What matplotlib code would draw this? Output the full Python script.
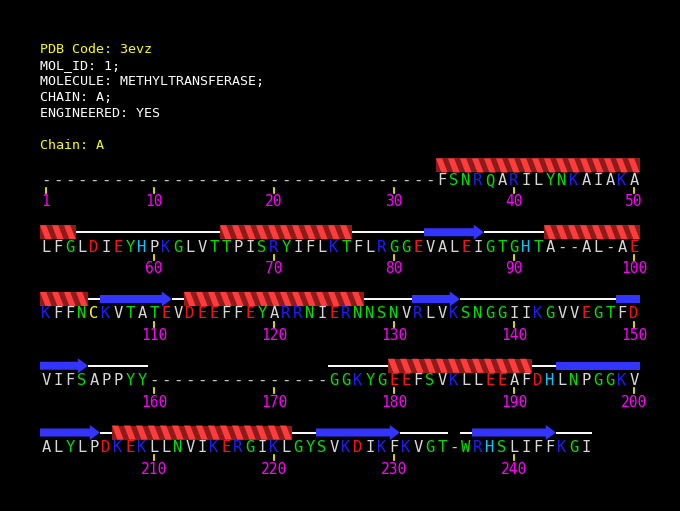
import matplotlib
matplotlib.use("Agg")
import matplotlib.pyplot as plt
from matplotlib.patches import Polygon, FancyArrow, Rectangle

# sequence of chain A, 50 residues per row, '-' = residue not in the model
sequence = ("---------------------------------FSNRQARILYNKAIAKA"
            "LFGLDIEYHPKGLVTTPISRYIFLKTFLRGGEVALEIGTGHTA--AL-AE"
            "KFFNCKVTATEVDEEFFEYARRNIERNNSNVRLVKSNGGIIKGVVEGTFD"
            "VIFSAPPYY---------------GGKYGEEFSVKLLEEAFDHLNPGGKV"
            "ALYLPDKEKLLNVIKERGIKLGYSVKDIKFKVGT-WRHSLIFFKGI")

helices = [(34, 53), (66, 76), (93, 104), (113, 127), (180, 191), (207, 221)]
strands = [(83, 87), (106, 111), (132, 135), (149, 154), (194, 205),
           (224, 230), (237, 243)]
tick_residues = [1, 10, 20, 30, 40, 50, 60, 70, 80, 90, 100, 110, 120, 130,
                 140, 150, 160, 170, 180, 190, 200, 210, 220, 230, 240]

header_lines = ["PDB Code: 3evz", "MOL_ID: 1;", "MOLECULE: METHYLTRANSFERASE;",
                "CHAIN: A;", "ENGINEERED: YES", "", "Chain: A"]
header_colors = ["#ffff00", "#ffffff", "#ffffff", "#ffffff", "#ffffff", "#ffffff",
                 "#ffff00"]

per_row = 50
res_colors = {}
for aa in "AILVFPMW":
    res_colors[aa] = "#d8d8d8"
for aa in "GSTNQYW":
    res_colors[aa] = "#00e000"
for aa in "KR":
    res_colors[aa] = "#1c1cff"
for aa in "DE":
    res_colors[aa] = "#ff1010"
res_colors["H"] = "#00c8ff"
res_colors["C"] = "#ffff00"
res_colors["-"] = "#c8c8c8"

# pixel geometry
PX = 12.0      # px per residue column
RY = 66.75     # px per row
def py(v):
    return v / RY

fig = plt.figure(figsize=(6.8, 5.11), dpi=100)
fig.patch.set_facecolor("black")
ax = fig.add_axes([0, 0, 1, 1])
ax.set_facecolor("black")
ax.set_xlim(-46 / PX, (680 - 46) / PX)
ax.set_ylim((511 - 180) / RY, -180 / RY)
ax.axis("off")

font = dict(family="DejaVu Sans Mono", fontsize=9.6)
seqfont = dict(family="DejaVu Sans Mono", fontsize=11.2)

def pos(resnum):
    i = resnum - 1
    return i % per_row, i // per_row

# residue letters
for i, aa in enumerate(sequence):
    col, row = pos(i + 1)
    ax.text(col, row + py(5), aa, color=res_colors.get(aa, "#d8d8d8"),
            ha="center", va="baseline", **seqfont)

# residue number ticks
for r in tick_residues:
    col, row = pos(r)
    ax.plot([col, col], [row + py(8), row + py(13)], color="#ffff00", lw=1.2)
    ax.text(col, row + py(26.5), str(r), color="#ff00ff", ha="center",
            va="baseline", family="DejaVu Sans Mono", fontsize=10.5)

def row_pieces(a, b):
    # split a residue range into per-row pieces
    pieces = []
    start = a
    while start <= b:
        col, row = pos(start)
        end = min(b, (row + 1) * per_row)
        pieces.append((start, end, row))
        start = end + 1
    return pieces

ss_off = py(-14.5)
in_ss = set()

# helices
hh = py(14)
for a, b in helices:
    in_ss.update(range(a, b + 1))
    for s, e, row in row_pieces(a, b):
        yc = row + ss_off
        x0 = pos(s)[0] - 0.5
        x1 = pos(e)[0] + 0.5
        ax.add_patch(Rectangle((x0, yc - hh / 2), x1 - x0, hh,
                               facecolor="#8c1c1c", edgecolor="none"))
        for k in range(s, e + 1):
            L = pos(k)[0] - 0.5
            ax.add_patch(Polygon([(L, yc - hh / 2), (L + 0.52, yc - hh / 2),
                                  (L + 0.97, yc + hh / 2), (L + 0.45, yc + hh / 2)],
                                 closed=True, facecolor="#ff3c3c", edgecolor="none"))

# strands
for a, b in strands:
    in_ss.update(range(a, b + 1))
    for s, e, row in row_pieces(a, b):
        yc = row + ss_off
        x0 = pos(s)[0] - 0.5
        x1 = pos(e)[0] + 0.5
        if e == b:
            ax.add_patch(FancyArrow(x0, yc, x1 - x0, 0, width=py(8),
                                    head_width=py(15), head_length=0.85,
                                    length_includes_head=True,
                                    facecolor="#3434ff", edgecolor="none"))
        else:
            ax.add_patch(Rectangle((x0, yc - py(4)), x1 - x0, py(8),
                                   facecolor="#3434ff", edgecolor="none"))

# coil: modelled residues outside helices and strands, drawn as runs
run = []
for i, aa in enumerate(sequence):
    r = i + 1
    ok = aa != "-" and r not in in_ss
    if ok and run and pos(r)[1] == pos(run[-1])[1] and r == run[-1] + 1:
        run.append(r)
        continue
    if run:
        col0, row = pos(run[0])
        col1 = pos(run[-1])[0]
        ax.plot([col0 - 0.5, col1 + 0.5], [row + ss_off] * 2, color="white",
                lw=1.4, solid_capstyle="butt", zorder=1)
    run = [r] if ok else []
if run:
    col0, row = pos(run[0])
    col1 = pos(run[-1])[0]
    ax.plot([col0 - 0.5, col1 + 0.5], [row + ss_off] * 2, color="white",
            lw=1.4, solid_capstyle="butt", zorder=1)

# header text
for n, (line, c) in enumerate(zip(header_lines, header_colors)):
    fig.text(40 / 680, 1 - (53 + 16 * n) / 511, line, color=c,
             ha="left", va="baseline", **font)

fig.savefig("out.png", dpi=100, facecolor="black")
